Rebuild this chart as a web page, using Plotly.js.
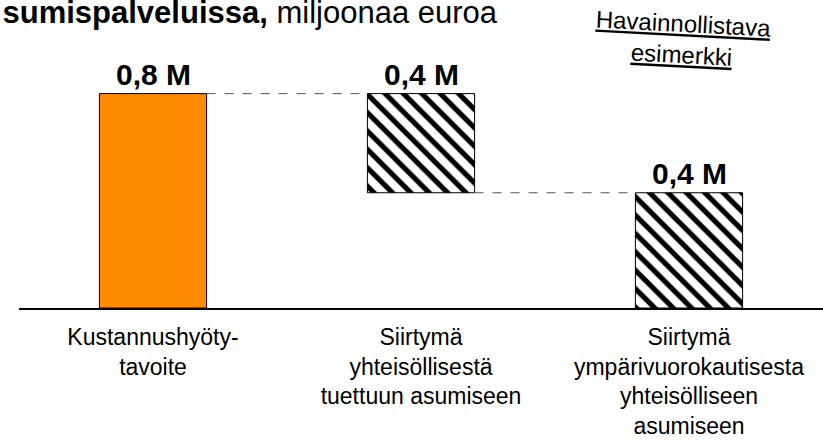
<!DOCTYPE html>
<html>
<head>
<meta charset="utf-8">
<script src="https://cdn.plot.ly/plotly-3.0.1.min.js"></script>
<style>html,body{margin:0;padding:0;background:#fff;}#chart{width:823px;height:441px;}</style>
</head>
<body>
<div id="chart"></div>
<script>
// Data (millions of euros)
const categories = ['Kustannushyötytavoite', 'Siirtymä yhteisöllisestä tuettuun asumiseen', 'Siirtymä ympärivuorokautisesta yhteisölliseen asumiseen'];
const tickLabels = ['Kustannushyöty-<br>tavoite', 'Siirtymä<br>yhteisöllisestä<br>tuettuun asumiseen', 'Siirtymä<br>ympärivuorokautisesta<br>yhteisölliseen<br>asumiseen'];
const barHeights = [0.8, 0.37, 0.43];
const barBases = [0, 0.43, 0];
const valueLabels = ['0,8 M', '0,4 M', '0,4 M'];
const hatched = [false, true, true];

const FONT = 'Liberation Sans, Arial, sans-serif';
const barWidth = 0.4;

const tops = barHeights.map((h, i) => h + barBases[i]);

const idxSolid = categories.map((c, i) => i).filter(i => !hatched[i]);
const idxHatch = categories.map((c, i) => i).filter(i => hatched[i]);

const solidTrace = {
  type: 'bar',
  x: idxSolid.map(i => categories[i]),
  y: idxSolid.map(i => barHeights[i]),
  base: idxSolid.map(i => barBases[i]),
  width: barWidth,
  offsetgroup: 'a',
  marker: {color: '#FF8C00', line: {color: '#000000', width: 1}},
  hoverinfo: 'none', showlegend: false
};

const hatchTrace = {
  type: 'bar',
  x: idxHatch.map(i => categories[i]),
  y: idxHatch.map(i => barHeights[i]),
  base: idxHatch.map(i => barBases[i]),
  width: barWidth,
  offsetgroup: 'a',
  marker: {
    color: '#000000',
    line: {color: '#000000', width: 1},
    pattern: {shape: '\\', fgcolor: '#000000', bgcolor: '#FFFFFF', size: 13, solidity: 0.4}
  },
  hoverinfo: 'none', showlegend: false
};

// connectors between consecutive bars (waterfall style)
const shapes = [];
for (let i = 0; i < categories.length - 1; i++) {
  const level = (i === 0) ? tops[0] : barBases[i];
  shapes.push({
    type: 'line', xref: 'x', yref: 'y',
    x0: i + barWidth / 2, x1: i + 1 - barWidth / 2,
    y0: level, y1: level,
    line: {color: '#555555', width: 1, dash: 'dash'}
  });
}

const annotations = categories.map((c, i) => ({
  x: c, y: tops[i], xref: 'x', yref: 'y',
  text: valueLabels[i], showarrow: false,
  yanchor: 'bottom', xanchor: 'center', yshift: 1,
  font: {family: FONT, size: 30, color: '#000000', weight: 'bold'}
}));

annotations.push({
  xref: 'paper', yref: 'paper', x: 0.825, y: 1.005,
  xanchor: 'center', yanchor: 'middle', showarrow: false,
  textangle: 3,
  text: '<u>Havainnollistava</u><br><u>esimerkki</u>',
  font: {family: FONT, size: 24, color: '#000000'}
});

const layout = {
  width: 823, height: 441,
  margin: {l: 19, r: 0, t: 40, b: 133},
  paper_bgcolor: '#FFFFFF', plot_bgcolor: '#FFFFFF',
  barmode: 'overlay',
  title: {
    text: '<b>sumispalveluissa,</b> miljoonaa euroa',
    xref: 'container', yref: 'container', x: 0.003, xanchor: 'left',
    y: 0.972, yanchor: 'middle',
    font: {family: FONT, size: 31, color: '#000000'}
  },
  xaxis: {
    type: 'category',
    categoryorder: 'array', categoryarray: categories,
    range: [-0.5, 2.5],
    tickvals: categories, ticktext: tickLabels,
    showline: true, linecolor: '#000000', linewidth: 2,
    ticks: '', showgrid: false, zeroline: false,
    ticklabelstandoff: 7,
    tickfont: {family: FONT, size: 23, color: '#000000'},
    fixedrange: true
  },
  yaxis: {
    range: [0, 1.0], visible: false, showgrid: false, zeroline: false, fixedrange: true
  },
  shapes: shapes,
  annotations: annotations
};

Plotly.newPlot('chart', [solidTrace, hatchTrace], layout, {displayModeBar: false, staticPlot: true});
</script>
</body>
</html>
